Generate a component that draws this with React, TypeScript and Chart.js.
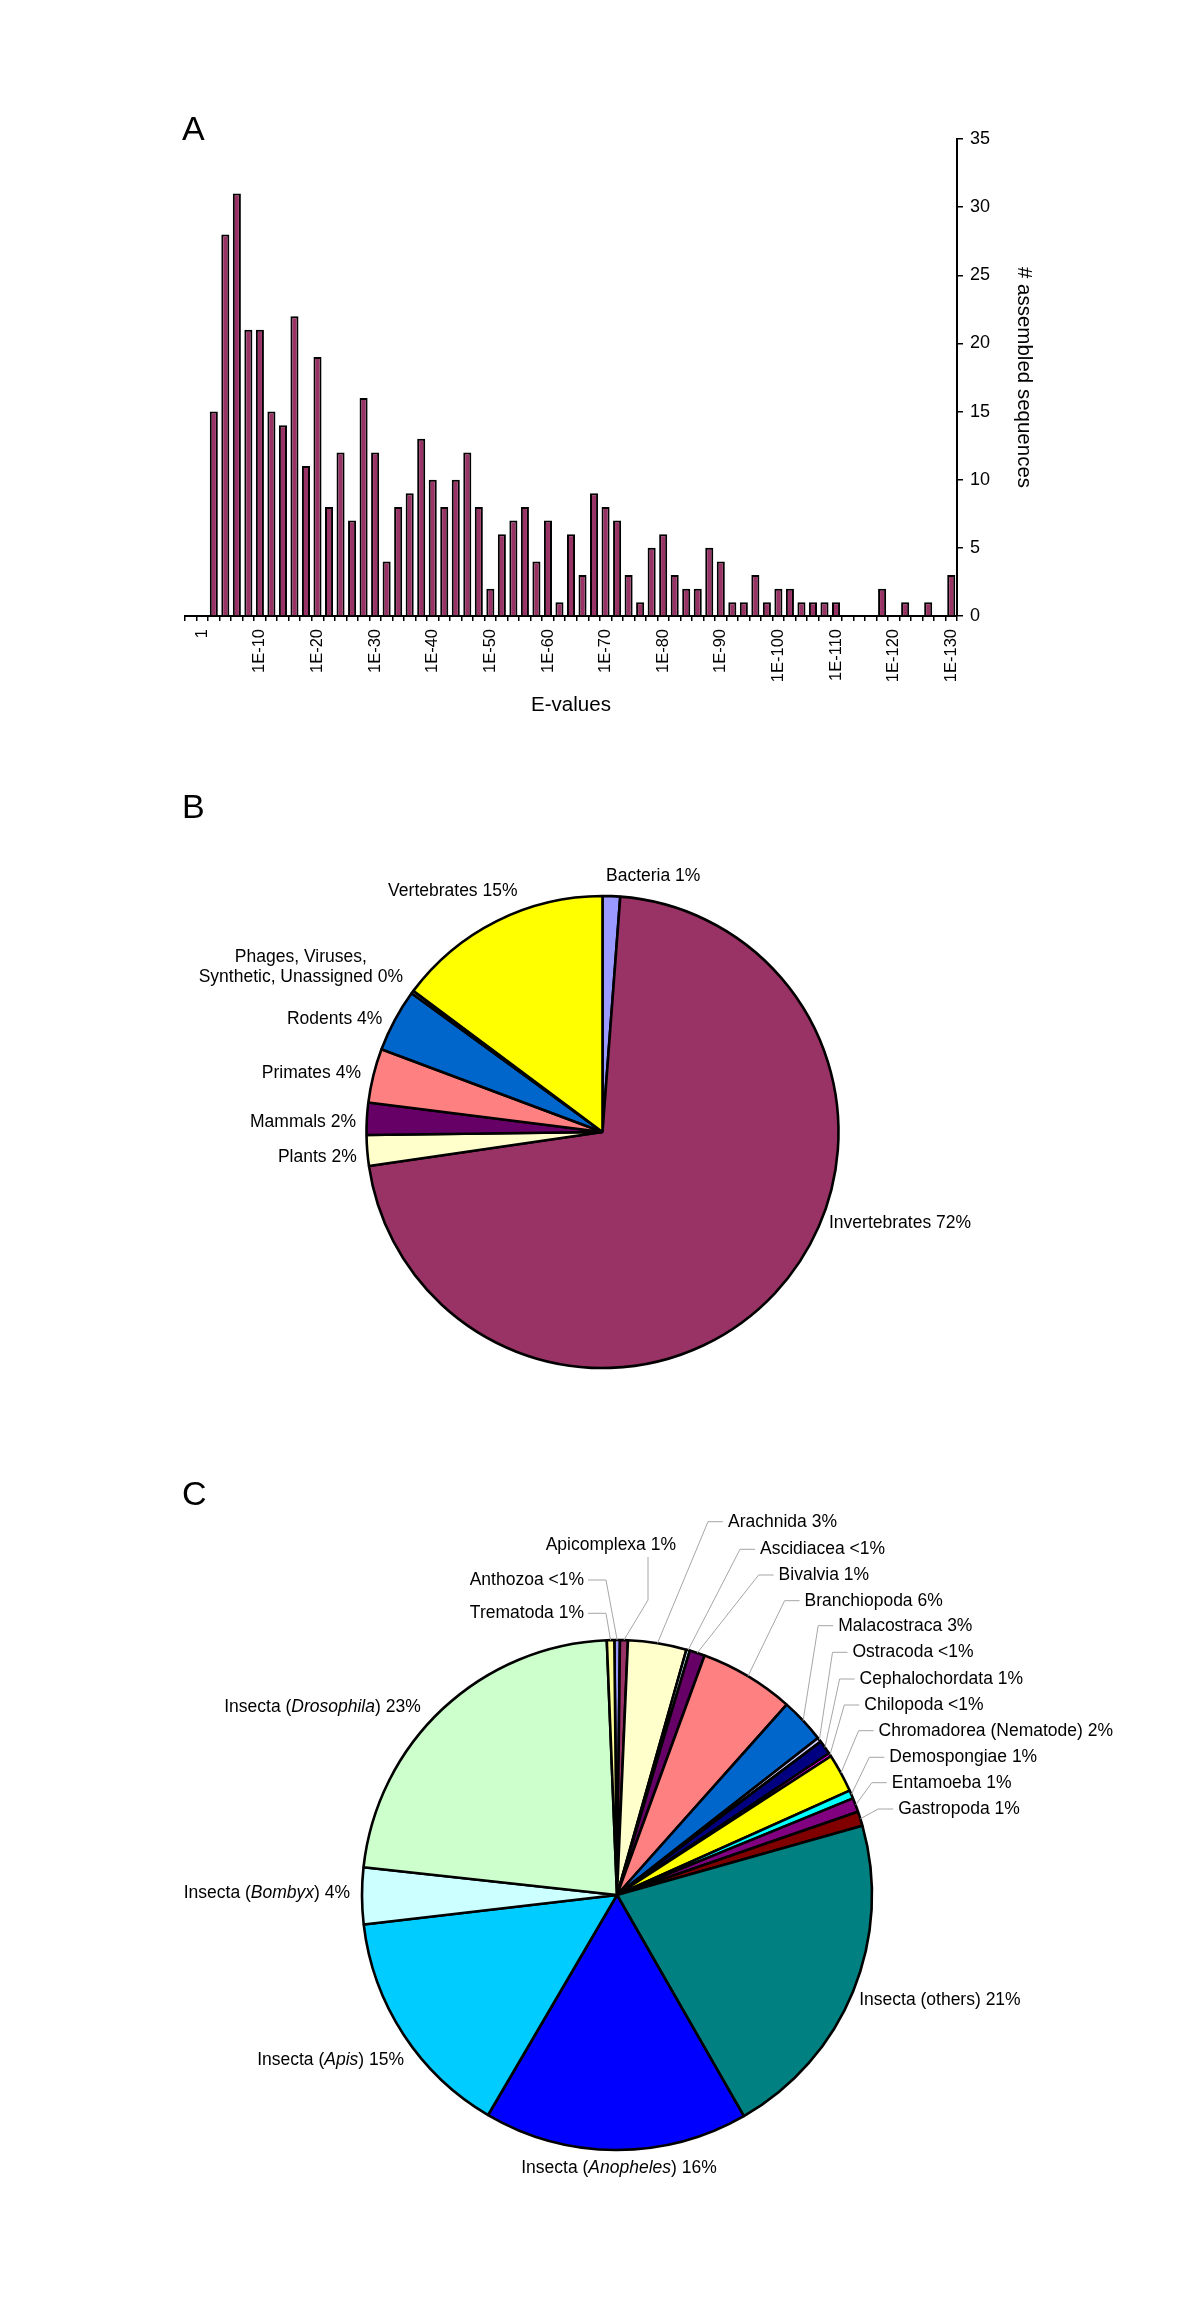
import React, { useEffect, useRef } from 'react';
import { Chart, registerables } from 'chart.js';

Chart.register(...registerables);

const FONT = '"Liberation Sans", Arial, Helvetica, sans-serif';
Chart.defaults.font.family = FONT;
Chart.defaults.color = '#000';

// ---------------- Panel A data ----------------
const eValueTickTexts = ['1', '1E-10', '1E-20', '1E-30', '1E-40', '1E-50', '1E-60', '1E-70', '1E-80', '1E-90', '1E-100', '1E-110', '1E-120', '1E-130'];
const sequenceCounts = [
  0, 0, 15, 28, 31, 21, 21, 15, 14, 22, 11, 19, 8, 12, 7, 16, 12, 4, 8, 9, 13, 10, 8, 10, 12, 8, 2, 6, 7, 8, 4, 7, 1, 6, 3,
  9, 8, 7, 3, 1, 5, 6, 3, 2, 2, 5, 4, 1, 1, 3, 1, 2, 2, 1, 1, 1, 1,
  0, 0, 0, 2, 0, 1, 0, 1, 0, 3,
];
const binLabels = sequenceCounts.map((_, i) => (i % 5 === 1 ? eValueTickTexts[(i - 1) / 5] : ''));

// ---------------- Panel B data ----------------
const kingdomNames = ['Bacteria', 'Invertebrates', 'Plants', 'Mammals', 'Primates', 'Rodents', 'Phages, Viruses, Synthetic, Unassigned', 'Vertebrates'];
const kingdomShares = [1.2, 71.5, 2.1, 2.2, 3.7, 4.3, 0.2, 14.8];
const kingdomLabels = ['Bacteria 1%', 'Invertebrates 72%', 'Plants 2%', 'Mammals 2%', 'Primates 4%', 'Rodents 4%', 'Phages, Viruses,\nSynthetic, Unassigned 0%', 'Vertebrates 15%'];
const kingdomColors = ['#9999FF', '#993366', '#FFFFCC', '#660066', '#FF8080', '#0066CC', '#CCCCFF', '#FFFF00'];

// ---------------- Panel C data ----------------
const taxonNames = ['Anthozoa', 'Apicomplexa', 'Arachnida', 'Ascidiacea', 'Bivalvia', 'Branchiopoda', 'Malacostraca', 'Ostracoda', 'Cephalochordata', 'Chilopoda', 'Chromadorea (Nematode)', 'Demospongiae', 'Entamoeba', 'Gastropoda', 'Insecta (others)', 'Insecta (Anopheles)', 'Insecta (Apis)', 'Insecta (Bombyx)', 'Insecta (Drosophila)', 'Trematoda'];
const taxonShares = [0.35, 0.5, 3.7, 0.22, 0.97, 6.0, 2.86, 0.28, 0.89, 0.22, 2.44, 0.53, 0.89, 0.92, 21.06, 16.7, 14.7, 3.58, 22.6, 0.47];
const taxonLabels = ['Anthozoa <1%', 'Apicomplexa 1%', 'Arachnida 3%', 'Ascidiacea <1%', 'Bivalvia 1%', 'Branchiopoda 6%', 'Malacostraca 3%', 'Ostracoda <1%', 'Cephalochordata 1%', 'Chilopoda <1%', 'Chromadorea (Nematode) 2%', 'Demospongiae 1%', 'Entamoeba 1%', 'Gastropoda 1%', 'Insecta (others) 21%', 'Insecta (_Anopheles_) 16%', 'Insecta (_Apis_) 15%', 'Insecta (_Bombyx_) 4%', 'Insecta (_Drosophila_) 23%', 'Trematoda 1%'];
const taxonColors = ['#9999FF', '#993366', '#FFFFCC', '#CCFFFF', '#660066', '#FF8080', '#0066CC', '#CCCCFF', '#000080', '#FF00FF', '#FFFF00', '#00FFFF', '#800080', '#800000', '#008080', '#0000FF', '#00CCFF', '#CCFFFF', '#CCFFCC', '#FFFF99'];

// ---------------- Label layout (offsets from pie centre) ----------------
type LabelPos = { dx: number; dy: number; align: 'left' | 'right' | 'center'; leader?: 'fromLeft' | 'fromRight' | 'below' };
const kingdomLabelLayout: LabelPos[] = [
  { dx: 3.5, dy: -256.3, align: 'left' },
  { dx: 226.5, dy: 91, align: 'left' },
  { dx: -245.8, dy: 24.7, align: 'right' },
  { dx: -246.5, dy: -10.3, align: 'right' },
  { dx: -241.5, dy: -58.7, align: 'right' },
  { dx: -220.2, dy: -112.7, align: 'right' },
  { dx: -301.7, dy: -165, align: 'center' },
  { dx: -85, dy: -241, align: 'right' },
];
const taxonLabelLayout: LabelPos[] = [
  { dx: -33, dy: -315, align: 'right', leader: 'fromRight' },
  { dx: 59, dy: -350, align: 'right', leader: 'below' },
  { dx: 111, dy: -373.3, align: 'left', leader: 'fromLeft' },
  { dx: 143, dy: -345.7, align: 'left', leader: 'fromLeft' },
  { dx: 161.6, dy: -320, align: 'left', leader: 'fromLeft' },
  { dx: 187.6, dy: -294.3, align: 'left', leader: 'fromLeft' },
  { dx: 221.2, dy: -269.3, align: 'left', leader: 'fromLeft' },
  { dx: 235.5, dy: -242.7, align: 'left', leader: 'fromLeft' },
  { dx: 242.6, dy: -216, align: 'left', leader: 'fromLeft' },
  { dx: 247.3, dy: -190, align: 'left', leader: 'fromLeft' },
  { dx: 261.6, dy: -164.3, align: 'left', leader: 'fromLeft' },
  { dx: 272.3, dy: -137.7, align: 'left', leader: 'fromLeft' },
  { dx: 274.8, dy: -112.3, align: 'left', leader: 'fromLeft' },
  { dx: 281.2, dy: -86, align: 'left', leader: 'fromLeft' },
  { dx: 242.2, dy: 105, align: 'left' },
  { dx: 2, dy: 273.3, align: 'center' },
  { dx: -213, dy: 165, align: 'right' },
  { dx: -267, dy: -2, align: 'right' },
  { dx: -196.3, dy: -188.3, align: 'right' },
  { dx: -33, dy: -281.7, align: 'right', leader: 'fromRight' },
];

const LABEL_SIZE = 17.5;

function drawRich(ctx: CanvasRenderingContext2D, text: string, x: number, y: number, align: string) {
  const parts = text.split('_');
  const fonts = parts.map((_, i) => `${i % 2 ? 'italic ' : ''}${LABEL_SIZE}px ${FONT}`);
  const widths = parts.map((p, i) => {
    ctx.font = fonts[i];
    return ctx.measureText(p).width;
  });
  const total = widths.reduce((a, b) => a + b, 0);
  let sx = align === 'left' ? x : align === 'right' ? x - total : x - total / 2;
  const left = sx;
  ctx.textAlign = 'left';
  ctx.textBaseline = 'middle';
  parts.forEach((p, i) => {
    ctx.font = fonts[i];
    ctx.fillText(p, sx, y);
    sx += widths[i];
  });
  return { left, right: left + total };
}

function makeLetterPlugin(letter: string, x: number, y: number) {
  return {
    id: 'panelLetter' + letter,
    afterDraw(chart: any) {
      const ctx = chart.ctx as CanvasRenderingContext2D;
      ctx.save();
      ctx.fillStyle = '#000';
      ctx.font = `34px ${FONT}`;
      ctx.textAlign = 'left';
      ctx.textBaseline = 'alphabetic';
      ctx.fillText(letter, x, y);
      ctx.restore();
    },
  };
}

function makeSliceLabelPlugin(labels: string[], layout: LabelPos[]) {
  return {
    id: 'sliceLabels',
    afterDraw(chart: any) {
      const ctx = chart.ctx as CanvasRenderingContext2D;
      const arcs = chart.getDatasetMeta(0).data;
      ctx.save();
      labels.forEach((text, i) => {
        const arc = arcs[i];
        const pos = layout[i];
        if (!arc || !pos) return;
        const cx = arc.x;
        const cy = arc.y;
        const R = arc.outerRadius;
        const mid = (arc.startAngle + arc.endAngle) / 2;
        const lx = cx + pos.dx;
        const ly = cy + pos.dy;
        const lines = text.split('\n');
        const lh = LABEL_SIZE * 1.18;
        let bounds = { left: lx, right: lx };
        ctx.fillStyle = '#000';
        lines.forEach((line, k) => {
          const yy = ly + (k - (lines.length - 1) / 2) * lh;
          const b = drawRich(ctx, line, lx, yy, pos.align);
          if (k === 0) bounds = b;
        });
        if (pos.leader) {
          const ex = cx + R * Math.cos(mid);
          const ey = cy + R * Math.sin(mid);
          ctx.strokeStyle = '#a6a6a6';
          ctx.lineWidth = 1;
          ctx.beginPath();
          if (pos.leader === 'fromLeft') {
            ctx.moveTo(bounds.left - 5, ly);
            ctx.lineTo(bounds.left - 20, ly);
          } else if (pos.leader === 'fromRight') {
            ctx.moveTo(bounds.right + 4, ly);
            ctx.lineTo(bounds.right + 22, ly);
          } else {
            ctx.moveTo(bounds.right - 28, ly + 12);
            ctx.lineTo(bounds.right - 28, ly + 55);
          }
          ctx.lineTo(ex, ey);
          ctx.stroke();
        }
      });
      ctx.restore();
    },
  };
}

function buildBarChart(canvas: HTMLCanvasElement) {
  return new Chart(canvas, {
    type: 'bar',
    data: {
      labels: binLabels,
      datasets: [
        {
          data: sequenceCounts,
          backgroundColor: '#993366',
          borderColor: '#000',
          borderWidth: 2,
          barPercentage: 0.7,
          categoryPercentage: 1,
        },
      ],
    },
    options: {
      responsive: false,
      animation: false,
      events: [],
      layout: { padding: { left: 185, top: 139, right: 164, bottom: 0 } },
      plugins: { legend: { display: false }, tooltip: { enabled: false } },
      scales: {
        x: {
          offset: true,
          grid: { display: true, drawOnChartArea: false, drawTicks: true, tickLength: 5, color: '#000', lineWidth: 1.5, offset: true },
          border: { display: true, color: '#000', width: 2 },
          ticks: { autoSkip: false, minRotation: 90, maxRotation: 90, color: '#000', font: { size: 16.5, family: FONT }, padding: 8 },
          title: { display: true, text: 'E-values', color: '#000', font: { size: 20.5, family: FONT }, padding: { top: 4, bottom: 42.7 } },
          afterFit: (s: any) => {
            s.height = 144;
          },
        },
        y: {
          position: 'right',
          min: 0,
          max: 35,
          ticks: { stepSize: 5, color: '#000', font: { size: 18, family: FONT }, padding: 7 },
          grid: { display: true, drawOnChartArea: false, drawTicks: true, tickLength: 6, color: '#000', lineWidth: 1.5 },
          border: { display: true, color: '#000', width: 2 },
          title: { display: true, text: '# assembled sequences', color: '#000', font: { size: 20.5, family: FONT }, padding: 0 },
          afterFit: (s: any) => {
            s.width = 79;
          },
        },
      },
    } as any,
    plugins: [makeLetterPlugin('A', 182, 139.5)],
  });
}

function buildKingdomPie(canvas: HTMLCanvasElement) {
  return new Chart(canvas, {
    type: 'pie',
    data: {
      labels: kingdomNames,
      datasets: [
        {
          data: kingdomShares,
          backgroundColor: kingdomColors,
          borderColor: '#000',
          borderWidth: 2.6,
          radius: 236,
        } as any,
      ],
    },
    options: {
      responsive: false,
      animation: false,
      events: [],
      rotation: 0,
      layout: { padding: { left: 105, right: 100, top: 100, bottom: 36 } },
      plugins: { legend: { display: false }, tooltip: { enabled: false } },
    } as any,
    plugins: [makeSliceLabelPlugin(kingdomLabels, kingdomLabelLayout), makeLetterPlugin('B', 182, 57.5)],
  });
}

function buildTaxonPie(canvas: HTMLCanvasElement) {
  return new Chart(canvas, {
    type: 'pie',
    data: {
      labels: taxonNames,
      datasets: [
        {
          data: taxonShares,
          backgroundColor: taxonColors,
          borderColor: '#000',
          borderWidth: 2.6,
          radius: 255,
        } as any,
      ],
    },
    options: {
      responsive: false,
      animation: false,
      events: [],
      rotation: -0.6,
      layout: { padding: { left: 134, right: 100, top: 96, bottom: 50 } },
      plugins: { legend: { display: false }, tooltip: { enabled: false } },
    } as any,
    plugins: [makeSliceLabelPlugin(taxonLabels, taxonLabelLayout), makeLetterPlugin('C', 182, 65)],
  });
}

function ChartCanvas({ top, height, build }: { top: number; height: number; build: (c: HTMLCanvasElement) => Chart }) {
  const ref = useRef<HTMLCanvasElement | null>(null);
  useEffect(() => {
    if (!ref.current) return;
    const chart = build(ref.current);
    return () => chart.destroy();
  }, []);
  return (
    <canvas
      ref={ref}
      width={1200}
      height={height}
      style={{ position: 'absolute', left: 0, top, width: 1200, height, display: 'block' }}
    />
  );
}

export default function App() {
  return (
    <div style={{ position: 'absolute', left: 0, top: 0, width: 1200, height: 2304, background: '#fff', overflow: 'hidden' }}>
      <ChartCanvas top={0} height={760} build={buildBarChart} />
      <ChartCanvas top={760} height={680} build={buildKingdomPie} />
      <ChartCanvas top={1440} height={864} build={buildTaxonPie} />
    </div>
  );
}
